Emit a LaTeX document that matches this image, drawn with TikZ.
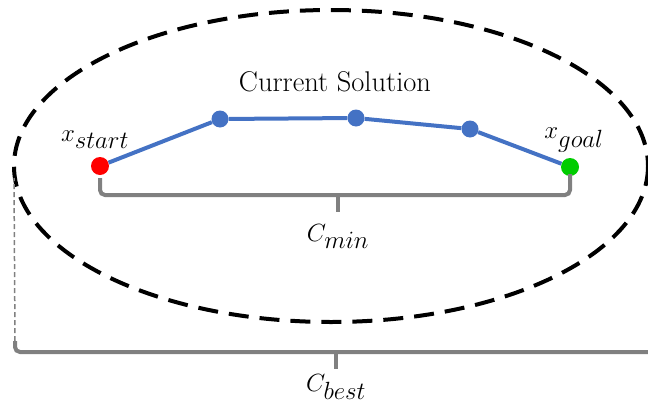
\documentclass[tikz,border=0pt]{standalone}
\usepackage{fontspec}
\usetikzlibrary{positioning}
\definecolor{pathblue}{RGB}{68,114,196}
\definecolor{bracegray}{RGB}{128,128,128}
\definecolor{goalgreen}{RGB}{0,204,0}
\begin{document}
\begin{tikzpicture}[
    x=1pt, y=-1pt,
    waypoint/.style={circle, fill=pathblue, minimum size=17pt, inner sep=0pt},
    endpoint/.style={circle, minimum size=18pt, inner sep=0pt},
    brace/.style={draw=bracegray, line width=4pt, rounded corners=5pt},
    lbl/.style={font=\fontsize{33}{38}\selectfont, inner sep=0pt}
  ]
  \useasboundingbox (0,0) rectangle (648,407);
  \clip (0,0) rectangle (648,407);
  % informed set
  \draw[line width=4pt, dash pattern=on 20pt off 11pt] (331,166) ellipse [x radius=317, y radius=156];
  \coordinate (ell-w) at (14,178);
  % path
  \node[endpoint, fill=red] (start) at (100,166) {};
  \node[waypoint] (p1) at (220,119) {};
  \node[waypoint] (p2) at (356,118) {};
  \node[waypoint] (p3) at (470,129) {};
  \node[endpoint, fill=goalgreen] (goal) at (570,167) {};
  \draw[pathblue, line width=4pt] (start) -- (p1) -- (p2) -- (p3) -- (goal);
  \node[font=\fontsize{28.5}{32}\selectfont] (title) at (335,82) {Current Solution};
  \node[lbl] (xs) at (95,140) {$x_{start}$};
  \node[lbl] (xg) at (574,140) {$x_{goal}$};
  % c_min
  \coordinate (min-l) at (100,178);
  \coordinate (min-r) at (570,174);
  \coordinate (min-m) at (338,195);
  \coordinate (min-t) at (338,212);
  \draw[brace] (min-l) -- (min-l |- min-m) -- (min-r |- min-m) -- (min-r);
  \draw[brace] (min-m) -- (min-t);
  \node[lbl, below=12pt of min-t] (cmin) {$C_{min}$};
  % c_best
  \coordinate (best-l) at (15,341);
  \coordinate (best-r) at (670,341);
  \coordinate (best-m) at (336,352);
  \coordinate (best-t) at (336,369);
  \draw[brace] (best-l) -- (best-l |- best-m) -- (best-r |- best-m) -- (best-r);
  \draw[brace] (best-m) -- (best-t);
  \draw[bracegray, line width=1.5pt, dash pattern=on 5pt off 3pt] (best-l) -- (ell-w);
  \node[lbl, below=5pt of best-t] (cbest) {$C_{best}$};
\end{tikzpicture}
\end{document}
